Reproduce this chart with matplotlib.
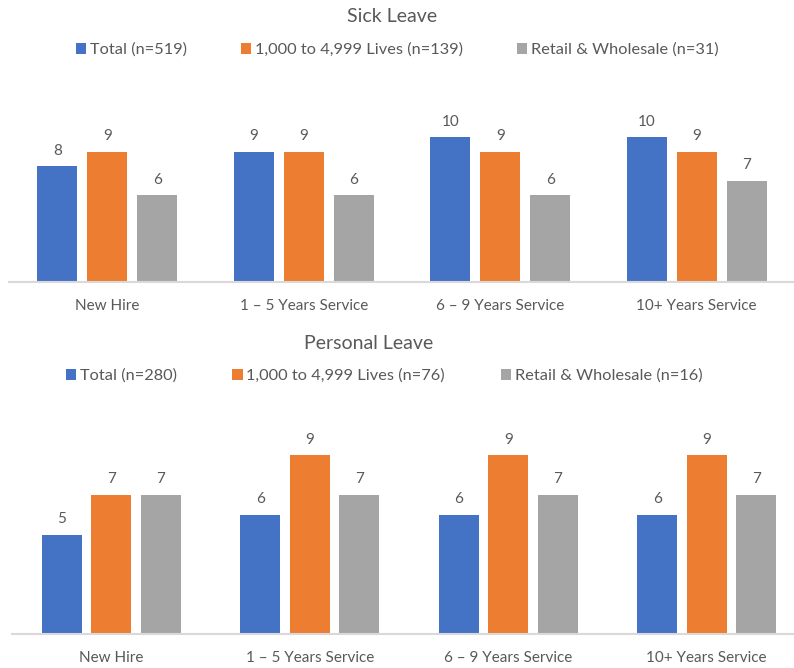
import matplotlib

matplotlib.use("Agg")
import matplotlib.pyplot as plt
from matplotlib.patches import Patch
import numpy as np

categories = ["New Hire", "1 \u2013 5 Years Service", "6 \u2013 9 Years Service", "10+ Years Service"]

sick_series = ["Total (n=519)", "1,000 to 4,999 Lives (n=139)", "Retail & Wholesale (n=31)"]
sick_total = [8, 9, 10, 10]
sick_lives = [9, 9, 9, 9]
sick_retail = [6, 6, 6, 7]

personal_series = ["Total (n=280)", "1,000 to 4,999 Lives (n=76)", "Retail & Wholesale (n=16)"]
personal_total = [5, 6, 6, 6]
personal_lives = [7, 9, 9, 9]
personal_retail = [7, 7, 7, 7]

colors = ["#4472C4", "#ED7D31", "#A5A5A5"]
text_color = "#595959"

plt.rcParams["font.family"] = ["Lato", "DejaVu Sans"]

W, H = 794, 668
fig = plt.figure(figsize=(W / 100, H / 100), dpi=100)


def panel(rect, series_vals, names, title, ymax, step, width,
          title_xy, legend_xy, colsp):
    ax = fig.add_axes(rect)
    x = np.arange(len(categories))
    for i, (vals, c) in enumerate(zip(series_vals, colors)):
        bars = ax.bar(x + (i - 1) * step, vals, width=width, color=c, zorder=2)
        ax.bar_label(bars, padding=6, fontsize=11, color=text_color)
    ax.set_xlim(-0.5, len(categories) - 0.5)
    ax.set_ylim(0, ymax)
    ax.set_yticks([])
    ax.set_xticks(x)
    ax.set_xticklabels(categories, fontsize=11, color=text_color)
    ax.tick_params(axis="x", length=0, pad=12)
    for s in ["top", "left", "right"]:
        ax.spines[s].set_visible(False)
    ax.spines["bottom"].set_color("#D9D9D9")
    ax.spines["bottom"].set_linewidth(1.5)

    fig.text(title_xy[0] / W, 1 - title_xy[1] / H, title, ha="center", va="center",
             fontsize=14, color=text_color)
    handles = [Patch(facecolor=c) for c in colors]
    fig.legend(
        handles, names, loc="center",
        bbox_to_anchor=(legend_xy[0] / W, 1 - legend_xy[1] / H),
        ncol=3, frameon=False, fontsize=11.8, labelcolor=text_color,
        handlelength=0.65, handleheight=0.65, handletextpad=0.2,
        columnspacing=colsp,
    )
    return ax


panel([9 / W, (H - 282) / H, 786 / W, 174 / H],
      [sick_total, sick_lives, sick_retail], sick_series, "Sick Leave",
      12, 0.254, 0.204, (392, 17), (397, 50), 3.3)

panel([12 / W, 34 / H, 794 / W, 199 / H],
      [personal_total, personal_lives, personal_retail], personal_series, "Personal Leave",
      10, 0.249, 0.2, (369, 344), (384, 376), 3.4)

fig.savefig("out.png", dpi=100)
plt.close(fig)
